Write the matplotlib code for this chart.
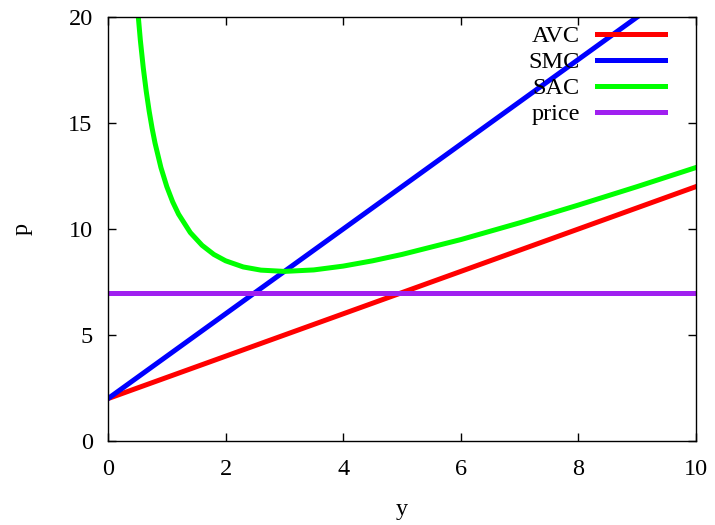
import matplotlib.pyplot as plt

plt.rcParams['font.family'] = ['Liberation Serif', 'DejaVu Serif']

# output levels y and cost values
y_line = [0, 10]
avc = [2, 12]
y_smc = [0, 9]
smc = [2, 20]
price = [7, 7]

y_sac = [0.45, 0.48, 0.5, 0.55, 0.6, 0.65, 0.7, 0.75, 0.8, 0.9, 1.0, 1.1, 1.2, 1.4, 1.6, 1.8,
         2.0, 2.3, 2.6, 3.0, 3.5, 4.0, 4.5, 5.0, 6.0, 7.0, 8.0, 9.0, 10.0]
sac = [22.45, 21.2, 20.5, 18.91, 17.6, 16.5, 15.56, 14.75, 14.05, 12.9, 12.0, 11.28, 10.7,
       9.83, 9.23, 8.8, 8.5, 8.21, 8.06, 8.0, 8.07, 8.25, 8.5, 8.8, 9.5, 10.29, 11.13, 12.0, 12.9]

fig = plt.figure(figsize=(7.15, 5.25), dpi=100)
ax = fig.add_axes([108/715, 1-441/525, 588/715, 424/525])

lw = 3.6
ax.plot(y_line, avc, color='#ff0000', lw=lw, label='AVC')
ax.plot(y_smc, smc, color='#0000ff', lw=lw, label='SMC')
ax.plot(y_sac, sac, color='#00ff00', lw=lw, label='SAC')
ax.plot(y_line, price, color='#a020f0', lw=lw, label='price')

fs = 17.5
ax.set_xlim(0, 10)
ax.set_ylim(0, 20)
ax.set_xticks([0, 2, 4, 6, 8, 10])
ax.set_yticks([0, 5, 10, 15, 20])
ax.tick_params(direction='in', length=6, width=1, labelsize=fs, top=True, right=True)
ax.tick_params(axis='x', pad=13)
ax.tick_params(axis='y', pad=11)
ax.set_xlabel('y', fontsize=fs)
ax.set_ylabel('p', fontsize=fs)
ax.xaxis.set_label_coords(0.5, -0.137)
ax.yaxis.set_label_coords(-0.128, 0.5)
for s in ax.spines.values():
    s.set_linewidth(1)

ax.legend(loc='upper right', bbox_to_anchor=(0.947, (441 - 25) / 424), frameon=False,
          markerfirst=False, fontsize=fs, handlelength=2.8, handletextpad=0.7,
          labelspacing=0.165, borderpad=0, borderaxespad=0)

fig.savefig('out.png', dpi=100)
